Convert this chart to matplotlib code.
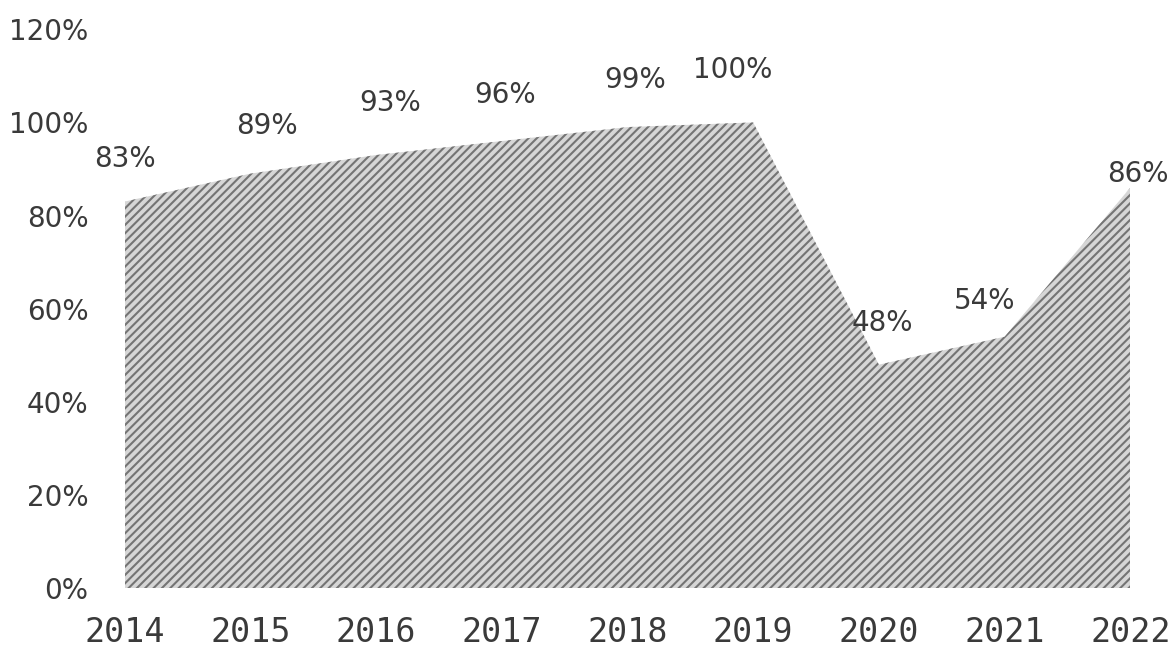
import matplotlib
matplotlib.use("Agg")
import matplotlib.pyplot as plt

years = ["2014", "2015", "2016", "2017", "2018", "2019", "2020", "2021", "2022"]
values = [83, 89, 93, 96, 99, 100, 48, 54, 86]
y_ticks = [0, 20, 40, 60, 80, 100, 120]
# label offsets in pixels (dx, dy) from each point
label_offsets = [(0, 43), (17, 48), (14, 52), (3, 46), (8, 47), (-20, 52), (3, 42), (-20, 36), (8, 14)]

plt.rcParams['hatch.linewidth'] = 1.5
plt.rcParams['hatch.color'] = '#747474'

fig = plt.figure(figsize=(11.75, 6.5), dpi=100)
ax = fig.add_axes([0.106, 0.095, 0.856, 0.86])

x = list(range(len(years)))
ax.fill_between(x, 0, values, facecolor='#d6d6d6', hatch='////', edgecolor='#747474', linewidth=0)

for xi, v, off in zip(x, values, label_offsets):
    ax.annotate(f"{v}%", (xi, v), xytext=off, textcoords='offset pixels',
                ha='center', va='center', fontsize=20, color='#3a3a3a')

ax.set_xlim(0, len(years) - 1)
ax.set_ylim(0, 120)
ax.set_yticks(y_ticks)
ax.set_yticklabels([f"{t}%" for t in y_ticks], fontsize=20, color='#3a3a3a')
ax.set_xticks(x)
ax.set_xticklabels(years, fontsize=24, color='#3a3a3a', family='DejaVu Sans Mono')
ax.tick_params(axis='both', length=0)
ax.tick_params(axis='y', pad=26)
ax.tick_params(axis='x', pad=20)
for s in ax.spines.values():
    s.set_visible(False)

fig.savefig("out.png", dpi=100, facecolor='white')
